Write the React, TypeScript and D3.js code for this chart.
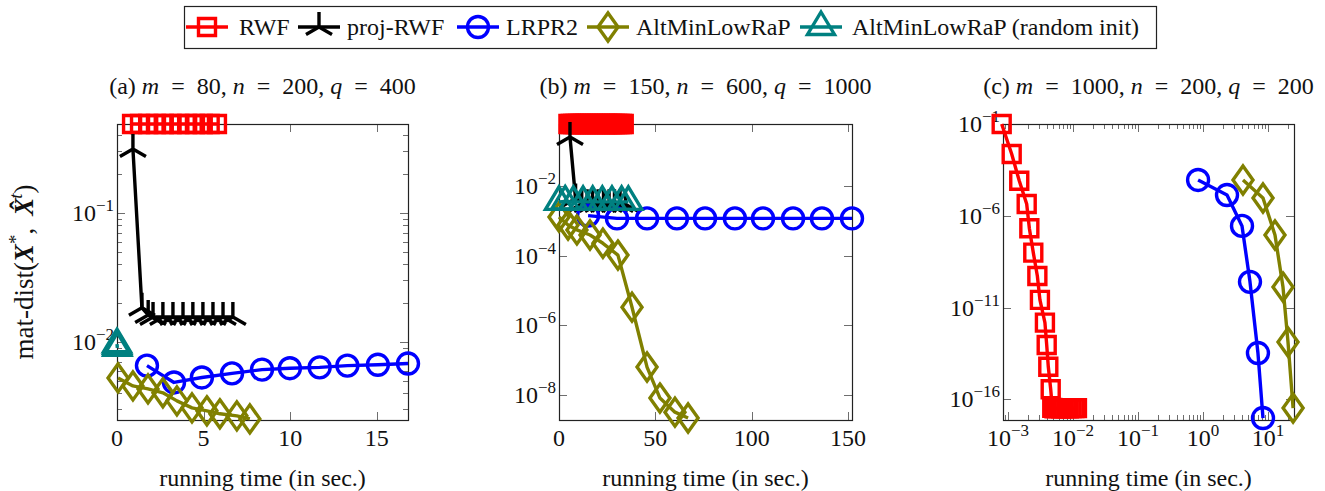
import React, { useEffect, useRef } from 'react';
import * as d3 from 'd3';

const FONT = "'Liberation Serif', 'Times New Roman', Times, serif";

// ---------- series meta ----------
const seriesNames = ['RWF', 'proj-RWF', 'LRPR2', 'AltMinLowRaP', 'AltMinLowRaP (random init)'];
const seriesColors = ['#ff0000', '#000000', '#0000ff', '#808000', '#008080'];
const seriesMarkers = ['square', 'star', 'circle', 'diamond', 'triangle'];

// ---------- panel (a) ----------
const aRwfTime = [0.87, 1.33, 1.8, 2.25, 2.7, 3.15, 3.6, 4.05, 4.5, 4.95, 5.35, 5.77];
const aRwfErr = [0.49, 0.49, 0.49, 0.49, 0.49, 0.49, 0.49, 0.49, 0.49, 0.49, 0.49, 0.49];
const aProjTime = [0.92, 1.44, 1.8, 2.08, 2.65, 3.23, 3.81, 4.38, 4.96, 5.54, 6.12, 6.69];
const aProjErr = [0.313, 0.0184, 0.0162, 0.0156, 0.0156, 0.0156, 0.0156, 0.0156, 0.0156, 0.0156, 0.0156, 0.0156];
const aLrprTime = [1.73, 3.29, 4.9, 6.64, 8.37, 9.98, 11.7, 13.3, 15.06, 16.8];
const aLrprErr = [6.55e-3, 4.85e-3, 5.3e-3, 5.7e-3, 6.1e-3, 6.25e-3, 6.35e-3, 6.55e-3, 6.65e-3, 6.8e-3];
const aAltTime = [0.06, 0.92, 1.79, 2.65, 3.46, 4.33, 5.19, 5.94, 6.92, 7.67];
const aAltErr = [5.26e-3, 4.56e-3, 4.32e-3, 4.03e-3, 3.49e-3, 3.08e-3, 2.92e-3, 2.77e-3, 2.67e-3, 2.53e-3];
const aAltRandTime = [0, 0.01, 0.02];
const aAltRandErr = [9.6e-3, 9.3e-3, 9.0e-3];

// ---------- panel (b) ----------
const bRwfTime = [4.9, 6.1, 7.4, 8.6, 9.9, 11.2, 12.4, 13.7, 15.0, 16.2, 17.5, 18.8, 20.0, 21.3, 22.6, 23.8, 25.1, 26.4, 27.6, 28.9, 30.2, 31.4, 32.7, 33.6];
const bRwfErr = [0.635, 0.635, 0.635, 0.635, 0.635, 0.635, 0.635, 0.635, 0.635, 0.635, 0.635, 0.635, 0.635, 0.635, 0.635, 0.635, 0.635, 0.635, 0.635, 0.635, 0.635, 0.635, 0.635, 0.635];
const bProjTime = [5.7, 8.6, 11.8, 14.6, 17.4, 20.3, 23.1, 26.0, 28.8, 31.7, 34.5];
const bProjErr = [0.268, 4.5e-3, 3.2e-3, 3.1e-3, 3.1e-3, 3.1e-3, 3.1e-3, 3.1e-3, 3.1e-3, 3.1e-3, 3.1e-3];
const bLrprTime = [15.1, 30.1, 45.7, 61.2, 75.8, 91.3, 105.9, 121.5, 136.5, 152.1];
const bLrprErr = [1.45e-3, 1.2e-3, 1.2e-3, 1.2e-3, 1.2e-3, 1.2e-3, 1.2e-3, 1.2e-3, 1.2e-3, 1.2e-3];
const bAltTime = [0, 4.7, 9.3, 16.1, 22.8, 30.6, 37.9, 45.7, 52.4, 60.2, 67.0];
const bAltErr = [1.32e-3, 7.7e-4, 5.6e-4, 4.0e-4, 2.3e-4, 1.05e-4, 3.3e-6, 6.2e-8, 7.9e-9, 3.1e-9, 2.1e-9];
const bAltRandTime = [0, 3.2, 7.5, 12.5, 17.5, 22.5, 27.5, 32.5, 36.0];
const bAltRandErr = [3.6e-3, 3.7e-3, 3.6e-3, 3.6e-3, 3.6e-3, 3.6e-3, 3.6e-3, 3.6e-3, 3.6e-3];

// ---------- panel (c) ----------
const cRwfTime = [8.0e-4, 1.14e-3, 1.49e-3, 1.94e-3, 2.13e-3, 2.45e-3, 2.83e-3, 3.1e-3, 3.7e-3, 3.94e-3, 4.17e-3, 4.54e-3,
  4.8e-3, 5.2e-3, 5.6e-3, 6.1e-3, 6.6e-3, 7.2e-3, 7.9e-3, 8.6e-3, 9.5e-3, 1.05e-2, 1.15e-2];
const cRwfErr = [0.1, 2.3e-3, 8.1e-5, 4.4e-6, 2.1e-7, 9.8e-9, 5.2e-10, 2.6e-11, 1.5e-12, 9.1e-14, 5.9e-15, 3.5e-16,
  3.4e-17, 3.2e-17, 3.3e-17, 3.3e-17, 3.2e-17, 3.3e-17, 3.3e-17, 3.2e-17, 3.3e-17, 3.3e-17, 3.3e-17];
const cLrprTime = [0.84, 2.34, 3.98, 5.28, 7.0, 8.37];
const cLrprErr = [8.9e-5, 1.35e-5, 2.8e-7, 2.5e-10, 3.3e-14, 9.5e-18];
const cAltTime = [4.12, 8.37, 12.8, 17.0, 20.3, 24.3];
const cAltErr = [8.9e-5, 9.3e-6, 8.9e-8, 1.3e-10, 1.3e-13, 3.3e-17];

// ---------- axes ----------
const aXTicks = [0, 5, 10, 15];
const aYTicks = [1e-2, 1e-1];
const bXTicks = [0, 50, 100, 150];
const bYTicks = [1e-8, 1e-6, 1e-4, 1e-2];
const cXTicks = [1e-3, 1e-2, 1e-1, 1, 10];
const cYTicks = [1e-16, 1e-11, 1e-6, 1e-1];

type Pt = [number, number];
const zip = (t: number[], v: number[]): Pt[] => t.map((x, i) => [x, v[i]]);

function markerPath(type: string, x: number, y: number): string {
  switch (type) {
    case 'square':
      return `M${x - 8.5},${y - 8.5}h17v17h-17Z`;
    case 'circle': {
      const r = 10.5;
      return `M${x + r},${y}A${r},${r} 0 1,1 ${x - r},${y}A${r},${r} 0 1,1 ${x + r},${y}Z`;
    }
    case 'star':
      return `M${x},${y}V${y - 15}M${x},${y}L${x - 13},${y + 7.5}M${x},${y}L${x + 13},${y + 7.5}`;
    case 'diamond':
      return `M${x},${y - 14}L${x + 10},${y}L${x},${y + 14}L${x - 10},${y}Z`;
    case 'triangle':
      return `M${x},${y - 15}L${x + 13.5},${y + 7.5}L${x - 13.5},${y + 7.5}Z`;
  }
  return '';
}

function supText(sel: any, base: string, exp: string) {
  sel.append('tspan').text(base);
  sel.append('tspan').attr('font-size', 17).attr('dy', -10).text(exp);
}
const expStr = (v: number) => {
  const e = Math.round(Math.log10(v));
  return e < 0 ? '\u2212' + Math.abs(e) : String(e);
};

interface PanelCfg {
  x0: number; x1: number; y0: number; y1: number;
  xLog: boolean; xDomain: [number, number]; yDomain: [number, number];
  xTicks: number[]; yTicks: number[]; xMinor: number[]; yMinor: number[];
  series: { idx: number; data: Pt[] }[];
  title: [string, string][];
}

function minorLog(lo: number, hi: number, eLo: number, eHi: number) {
  const out: number[] = [];
  for (let e = eLo; e <= eHi; e++) for (let k = 2; k <= 9; k++) {
    const v = k * Math.pow(10, e);
    if (v >= lo && v <= hi) out.push(v);
  }
  return out;
}

const EQ = '\u2002=\u2002';

export default function App() {
  const ref = useRef<SVGSVGElement>(null);
  useEffect(() => {
    const svg = d3.select(ref.current);
    svg.selectAll('*').remove();
    svg.append('rect').attr('width', 1325).attr('height', 491).attr('fill', '#fff');

    const panels: PanelCfg[] = [
      {
        x0: 117, x1: 408, y0: 124, y1: 420, xLog: false, xDomain: [0, 16.8], yDomain: [2.48e-3, 0.49],
        xTicks: aXTicks, yTicks: aYTicks, xMinor: [], yMinor: minorLog(2.48e-3, 0.49, -3, -1),
        series: [
          { idx: 0, data: zip(aRwfTime, aRwfErr) },
          { idx: 1, data: zip(aProjTime, aProjErr) },
          { idx: 2, data: zip(aLrprTime, aLrprErr) },
          { idx: 3, data: zip(aAltTime, aAltErr) },
          { idx: 4, data: zip(aAltRandTime, aAltRandErr) },
        ],
        title: [['(a) ', 'n'], ['m', 'i'], [EQ + '80, ', 'n'], ['n', 'i'], [EQ + '200, ', 'n'], ['q', 'i'], [EQ + '400', 'n']],
      },
      {
        x0: 559, x1: 852, y0: 124, y1: 420, xLog: false, xDomain: [0, 152.1], yDomain: [1.84e-9, 0.635],
        xTicks: bXTicks, yTicks: bYTicks, xMinor: [], yMinor: [],
        series: [
          { idx: 0, data: zip(bRwfTime, bRwfErr) },
          { idx: 1, data: zip(bProjTime, bProjErr) },
          { idx: 2, data: zip(bLrprTime, bLrprErr) },
          { idx: 3, data: zip(bAltTime, bAltErr) },
          { idx: 4, data: zip(bAltRandTime, bAltRandErr) },
        ],
        title: [['(b) ', 'n'], ['m', 'i'], [EQ + '150, ', 'n'], ['n', 'i'], [EQ + '600, ', 'n'], ['q', 'i'], [EQ + '1000', 'n']],
      },
      {
        x0: 1003, x1: 1294, y0: 124, y1: 420, xLog: true, xDomain: [8.38e-4, 25.1], yDomain: [7.4e-18, 0.1],
        xTicks: cXTicks, yTicks: cYTicks, xMinor: minorLog(8.38e-4, 25.1, -4, 1), yMinor: [],
        series: [
          { idx: 0, data: zip(cRwfTime, cRwfErr) },
          { idx: 2, data: zip(cLrprTime, cLrprErr) },
          { idx: 3, data: zip(cAltTime, cAltErr) },
        ],
        title: [['(c) ', 'n'], ['m', 'i'], [EQ + '1000, ', 'n'], ['n', 'i'], [EQ + '200, ', 'n'], ['q', 'i'], [EQ + '200', 'n']],
      },
    ];

    panels.forEach((p) => {
      const g = svg.append('g');
      const xs: any = p.xLog
        ? d3.scaleLog().domain(p.xDomain).range([p.x0, p.x1])
        : d3.scaleLinear().domain(p.xDomain).range([p.x0, p.x1]);
      const ys = d3.scaleLog().domain(p.yDomain).range([p.y1, p.y0]);

      // ticks
      const tickCol = '#6e6e6e';
      const tk = g.append('g').attr('stroke', tickCol).attr('stroke-width', 1);
      p.xTicks.forEach((t) => {
        const x = Math.round(xs(t)) + 0.5;
        tk.append('line').attr('x1', x).attr('x2', x).attr('y1', p.y1).attr('y2', p.y1 - 8);
        tk.append('line').attr('x1', x).attr('x2', x).attr('y1', p.y0).attr('y2', p.y0 + 8);
      });
      p.xMinor.forEach((t) => {
        const x = Math.round(xs(t)) + 0.5;
        tk.append('line').attr('x1', x).attr('x2', x).attr('y1', p.y1).attr('y2', p.y1 - 5);
        tk.append('line').attr('x1', x).attr('x2', x).attr('y1', p.y0).attr('y2', p.y0 + 5);
      });
      p.yTicks.forEach((t) => {
        const y = Math.round(ys(t)) + 0.5;
        tk.append('line').attr('x1', p.x0).attr('x2', p.x0 + 8).attr('y1', y).attr('y2', y);
        tk.append('line').attr('x1', p.x1).attr('x2', p.x1 - 8).attr('y1', y).attr('y2', y);
      });
      p.yMinor.forEach((t) => {
        const y = Math.round(ys(t)) + 0.5;
        tk.append('line').attr('x1', p.x0).attr('x2', p.x0 + 5).attr('y1', y).attr('y2', y);
        tk.append('line').attr('x1', p.x1).attr('x2', p.x1 - 5).attr('y1', y).attr('y2', y);
      });

      // box
      g.append('rect').attr('x', p.x0 + 0.5).attr('y', p.y0 + 0.5)
        .attr('width', p.x1 - p.x0).attr('height', p.y1 - p.y0)
        .attr('fill', 'none').attr('stroke', '#222').attr('stroke-width', 1.2);

      // tick labels
      p.xTicks.forEach((t) => {
        const tx = g.append('text').attr('x', xs(t)).attr('y', 446).attr('text-anchor', 'middle')
          .attr('font-family', FONT).attr('font-size', 24).attr('fill', '#111');
        if (p.xLog) supText(tx, '10', expStr(t));
        else tx.text(String(t));
      });
      p.yTicks.forEach((t) => {
        const tx = g.append('text').attr('x', p.x0 - 3).attr('y', ys(t) + 8).attr('text-anchor', 'end')
          .attr('font-family', FONT).attr('font-size', 24).attr('fill', '#111');
        supText(tx, '10', expStr(t));
      });

      // title
      const title = g.append('text').attr('x', (p.x0 + p.x1) / 2).attr('y', 94).attr('text-anchor', 'middle')
        .attr('font-family', FONT).attr('font-size', 24).attr('fill', '#111').attr('xml:space', 'preserve');
      p.title.forEach(([s, st]) => {
        const ts = title.append('tspan').text(s);
        if (st === 'i') ts.attr('font-style', 'italic');
      });

      // x label
      g.append('text').attr('x', (p.x0 + p.x1) / 2).attr('y', 486).attr('text-anchor', 'middle')
        .attr('font-family', FONT).attr('font-size', 24).attr('fill', '#111').text('running time (in sec.)');

      // series
      const line = d3.line<Pt>().x((d) => xs(d[0])).y((d) => ys(d[1]));
      p.series.forEach((s) => {
        const col = seriesColors[s.idx];
        const sg = g.append('g');
        sg.append('path').attr('d', line(s.data) as string).attr('fill', 'none')
          .attr('stroke', col).attr('stroke-width', 3.4).attr('stroke-linejoin', 'round');
        s.data.forEach((d) => {
          sg.append('path').attr('d', markerPath(seriesMarkers[s.idx], xs(d[0]), ys(d[1])))
            .attr('fill', 'none').attr('stroke', col).attr('stroke-width', 3.4);
        });
      });
    });

    // y axis label
    const yl = svg.append('text').attr('transform', 'translate(33,272) rotate(-90)').attr('text-anchor', 'middle')
      .attr('font-family', FONT).attr('font-size', 27).attr('fill', '#111').attr('xml:space', 'preserve');
    yl.append('tspan').text('mat-dist(');
    yl.append('tspan').attr('font-weight', 'bold').attr('font-style', 'italic').text('X');
    yl.append('tspan').attr('font-size', 19).attr('dy', -11).text('*');
    yl.append('tspan').attr('dy', 11).text(',\u2009 ');
    yl.append('tspan').attr('font-weight', 'bold').attr('font-style', 'italic').text('X');
    yl.append('tspan').attr('font-weight', 'bold').attr('dx', -12).attr('dy', -4).text('\u02C6');
    yl.append('tspan').attr('font-size', 19).attr('font-style', 'italic').attr('dx', 2).attr('dy', -7).text('t');
    yl.append('tspan').attr('dy', 11).text(')');

    // legend
    const lg = svg.append('g');
    lg.append('rect').attr('x', 184.5).attr('y', 6.5).attr('width', 972).attr('height', 42)
      .attr('fill', '#fff').attr('stroke', '#222').attr('stroke-width', 1.2);
    const iconCenters = [207, 319, 478, 608, 821];
    const textStarts = [239, 347, 506, 636, 852];
    seriesNames.forEach((name, i) => {
      const cx = iconCenters[i];
      const cy = 27;
      lg.append('line').attr('x1', cx - 21).attr('x2', cx + 21).attr('y1', cy).attr('y2', cy)
        .attr('stroke', seriesColors[i]).attr('stroke-width', 3.4);
      lg.append('path').attr('d', markerPath(seriesMarkers[i], cx, cy)).attr('fill', 'none')
        .attr('stroke', seriesColors[i]).attr('stroke-width', 3.4);
      lg.append('text').attr('x', textStarts[i]).attr('y', 35).attr('font-family', FONT)
        .attr('font-size', 24).attr('fill', '#111').text(name);
    });
  }, []);
  return <svg ref={ref} width={1325} height={491} style={{ position: 'absolute', left: 0, top: 0 }} />;
}
